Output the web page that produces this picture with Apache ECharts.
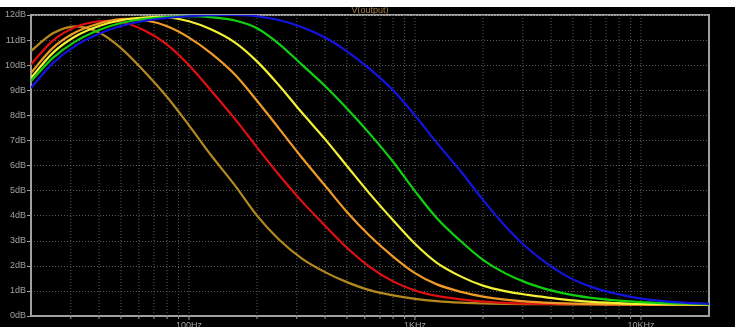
<!DOCTYPE html>
<html>
<head>
<meta charset="utf-8">
<script src="https://cdn.jsdelivr.net/npm/echarts@6/dist/echarts.min.js"></script>
<style>
html,body{margin:0;padding:0;background:#ffffff;width:735px;height:327px;overflow:hidden;}
#c{position:absolute;left:0;top:7px;width:735px;height:320px;}
</style>
</head>
<body>
<div id="c"></div>
<script>
// ---- data: frequency (Hz) and magnitude (dB) ----
const freqs = [20, 25, 31.5, 40, 50, 63, 80, 100, 125, 160, 200, 250, 315, 400, 500, 630, 800,
               1000, 1250, 1600, 2000, 2500, 3150, 4000, 5000, 6300, 8000, 10000, 12500, 16000, 20000];

const dbBrown  = [10.56, 11.27, 11.55, 11.3, 10.68, 9.78, 8.73, 7.6, 6.42, 5.2, 4.0, 3.05, 2.3, 1.75, 1.35, 1.03, 0.82,
                  0.68, 0.59, 0.53, 0.5, 0.48, 0.47, 0.47, 0.46, 0.46, 0.46, 0.45, 0.45, 0.45, 0.45];
const dbRed    = [10.03, 10.98, 11.52, 11.75, 11.72, 11.4, 10.82, 10.0, 9.0, 7.85, 6.72, 5.63, 4.58, 3.6, 2.72, 1.96, 1.38,
                  1.02, 0.8, 0.66, 0.57, 0.52, 0.49, 0.48, 0.47, 0.47, 0.46, 0.46, 0.45, 0.45, 0.45];
const dbOrange = [9.69, 10.69, 11.31, 11.66, 11.84, 11.8, 11.55, 11.1, 10.48, 9.62, 8.58, 7.48, 6.33, 5.2, 4.15, 3.2, 2.37,
                  1.71, 1.26, 0.96, 0.77, 0.65, 0.57, 0.52, 0.49, 0.47, 0.46, 0.46, 0.45, 0.45, 0.45];
const dbYellow = [9.49, 10.49, 11.15, 11.56, 11.79, 11.9, 11.91, 11.75, 11.43, 10.9, 10.15, 9.2, 8.12, 7.05, 5.98, 4.88, 3.82,
                  2.88, 2.12, 1.57, 1.21, 0.99, 0.84, 0.72, 0.62, 0.55, 0.51, 0.48, 0.47, 0.46, 0.45];
const dbGreen  = [9.36, 10.29, 10.95, 11.4, 11.68, 11.84, 11.92, 11.95, 11.91, 11.78, 11.47, 10.85, 10.03, 9.17, 8.27, 7.27, 6.15,
                  4.98, 3.9, 2.97, 2.24, 1.71, 1.31, 1.02, 0.83, 0.7, 0.61, 0.55, 0.51, 0.49, 0.47];
const dbBlue   = [9.09, 10.08, 10.78, 11.25, 11.56, 11.76, 11.88, 11.95, 11.99, 12.0, 11.95, 11.8, 11.52, 11.1, 10.55, 9.85, 9.0,
                  8.0, 6.9, 5.75, 4.63, 3.6, 2.7, 1.98, 1.46, 1.1, 0.86, 0.69, 0.59, 0.52, 0.48];

// axis tick labels
const xLabelValues = [100, 1000, 10000];
const xLabelTexts  = ['100Hz', '1KHz', '10KHz'];
const yUnit = 'dB';
const gridFreqs = [30, 40, 50, 60, 70, 80, 90, 100, 200, 300, 400, 500, 600, 700, 800, 900,
                   1000, 2000, 3000, 4000, 5000, 6000, 7000, 8000, 9000, 10000];
const majorFreqs = [100, 1000, 10000];
const titleText = 'V(output)';

// ---- chart ----
const seriesDefs = [
  {name: 'step1', d: dbBrown,  color: '#b48a1e'},
  {name: 'step2', d: dbRed,    color: '#e01010'},
  {name: 'step3', d: dbOrange, color: '#f09a28'},
  {name: 'step4', d: dbYellow, color: '#f2f232'},
  {name: 'step5', d: dbGreen,  color: '#10d010'},
  {name: 'step6', d: dbBlue,   color: '#1414e0'}
];

const chart = echarts.init(document.getElementById('c'), null, {renderer: 'canvas'});
const axisGray = '#a0a0a0';
const gridGray = '#5a5a5a';

// Each curve: points mapped through the axes (api.coord), joined by a Catmull-Rom spline.
function makeCurveRenderer(def) {
  return function (params, api) {
    if (params.dataIndex !== 0) return null;
    const pts = freqs.map((f, i) => api.coord([f, def.d[i]]));
    const n = pts.length;
    let p = 'M' + pts[0][0].toFixed(2) + ' ' + pts[0][1].toFixed(2);
    for (let i = 0; i < n - 1; i++) {
      const p0 = pts[Math.max(i - 1, 0)], p1 = pts[i], p2 = pts[i + 1], p3 = pts[Math.min(i + 2, n - 1)];
      const c1x = p1[0] + (p2[0] - p0[0]) / 6, c1y = p1[1] + (p2[1] - p0[1]) / 6;
      const c2x = p2[0] - (p3[0] - p1[0]) / 6, c2y = p2[1] - (p3[1] - p1[1]) / 6;
      p += ' C' + c1x.toFixed(2) + ' ' + c1y.toFixed(2) + ' ' + c2x.toFixed(2) + ' ' + c2y.toFixed(2) +
           ' ' + p2[0].toFixed(2) + ' ' + p2[1].toFixed(2);
    }
    return {
      type: 'path',
      shape: {pathData: p},
      style: {stroke: def.color, lineWidth: 2.2, fill: null, lineJoin: 'round'}
    };
  };
}

const curveSeries = seriesDefs.map(def => ({
  name: def.name,
  type: 'custom',
  clip: true,
  silent: true,
  z: 5,
  animation: false,
  data: freqs.map((f, i) => [f, def.d[i]]),
  encode: {x: 0, y: 1},
  renderItem: makeCurveRenderer(def)
}));

const gridSeries = {
  type: 'custom',
  silent: true,
  clip: false,
  z: 1,
  animation: false,
  data: gridFreqs.map(f => [f, 0]),
  encode: {x: 0, y: 1},
  renderItem: function (params, api) {
    const f = api.value(0);
    const bot = api.coord([f, 0]);
    const top = api.coord([f, 12]);
    const isMajor = majorFreqs.indexOf(f) >= 0;
    return {
      type: 'group',
      children: [
        {type: 'line', shape: {x1: bot[0], y1: bot[1], x2: top[0], y2: top[1]},
         style: {stroke: gridGray, lineWidth: 1, lineDash: [1, 2]}},
        {type: 'line', shape: {x1: bot[0], y1: bot[1], x2: bot[0], y2: bot[1] + (isMajor ? 4 : 3)},
         style: {stroke: axisGray, lineWidth: 1}}
      ]
    };
  }
};

const option = {
  backgroundColor: '#000000',
  animation: false,
  title: {
    text: titleText,
    left: 370,
    textAlign: 'center',
    top: -1,
    padding: 0,
    textStyle: {color: '#a07c48', fontSize: 9, fontWeight: 'normal', fontFamily: 'Liberation Sans'}
  },
  grid: {
    left: 31, right: 26, top: 8, bottom: 11,
    show: true, borderColor: axisGray, borderWidth: 2, backgroundColor: 'transparent',
    outerBoundsMode: 'none', containLabel: false
  },
  xAxis: {
    type: 'log',
    logBase: 10,
    min: 20,
    max: 20000,
    axisLine: {show: true, lineStyle: {color: axisGray, width: 2}},
    axisTick: {show: false},
    splitLine: {show: false},
    minorTick: {show: false},
    axisLabel: {
      color: axisGray, fontSize: 9, fontFamily: 'Liberation Sans', margin: 5,
      showMinLabel: false, showMaxLabel: false,
      formatter: function (v) {
        const r = Math.round(v);
        const i = xLabelValues.indexOf(r);
        return i >= 0 ? xLabelTexts[i] : '';
      }
    }
  },
  yAxis: {
    type: 'value',
    min: 0,
    max: 12,
    interval: 1,
    axisLine: {show: true, lineStyle: {color: axisGray, width: 2}},
    axisTick: {show: true, inside: false, length: 4, lineStyle: {color: axisGray, width: 1}},
    splitLine: {show: true, lineStyle: {color: gridGray, width: 1, type: [1, 2]}},
    axisLabel: {color: axisGray, fontSize: 9, fontFamily: 'Liberation Sans', margin: 5,
      formatter: function (v) { return v + yUnit; }}
  },
  series: [gridSeries].concat(curveSeries)
};
chart.setOption(option);
</script>
</body>
</html>
